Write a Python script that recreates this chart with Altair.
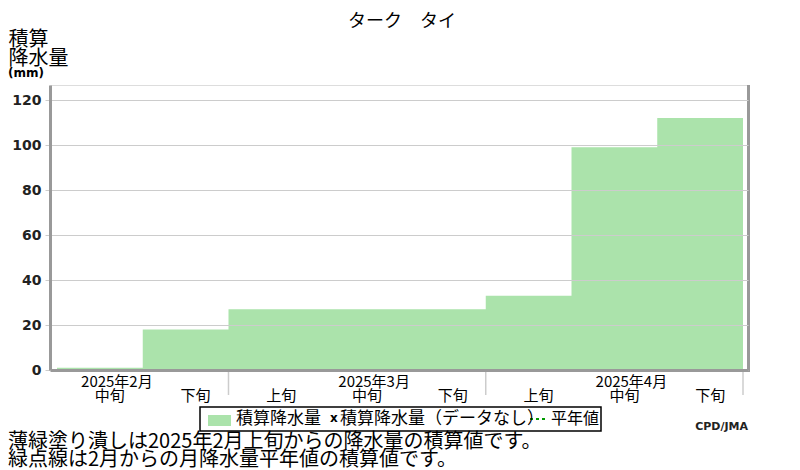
import altair as alt
import pandas as pd

JP = "Noto Sans CJK JP"

title_text = "ターク　タイ"
dekad_labels = ["中旬", "下旬", "上旬", "中旬", "下旬", "上旬", "中旬", "下旬"]
precip = [1, 18, 27, 27, 27, 33, 99, 112]
month_labels = ["2025年2月", "2025年3月", "2025年4月"]
month_mid_index = [0, 3, 6]
month_boundaries = [2, 5, 8]
y_ticks = [0, 20, 40, 60, 80, 100, 120]
y_title = ["積算", "降水量"]
y_unit = "(mm)"
legend_item1 = "積算降水量"
legend_item2 = "積算降水量（データなし）"
legend_item3 = "平年値"
note_lines = ["薄緑塗り潰しは2025年2月上旬からの降水量の積算値です。",
              "緑点線は2月からの月降水量平年値の積算値です。"]
credit = "CPD/JMA"

W, H = 698, 285
xscale = alt.Scale(domain=[-0.0816, 8.0583], nice=False, zero=False)
yscale = alt.Scale(domain=[0, 126.67], nice=False, zero=False)

# step-after area: each dekad's value holds until the next dekad boundary
area_df = pd.DataFrame({
    "pos": list(range(len(precip) + 1)),
    "value": precip + [precip[-1]],
})
dek_df = pd.DataFrame({"pos": [i + 0.5 for i in range(len(dekad_labels))], "label": dekad_labels})
mon_df = pd.DataFrame({"pos": [i + 0.5 for i in month_mid_index], "label": month_labels})
sep_df = pd.DataFrame({"pos": month_boundaries})

area = alt.Chart(area_df).mark_area(color="#abe3ab", interpolate="step-after", opacity=1).encode(
    x=alt.X("pos:Q", scale=xscale,
            axis=alt.Axis(labels=False, ticks=False, grid=False, domainColor="#999999",
                          domainWidth=3, title=None, zindex=1)),
    y=alt.Y("value:Q", scale=yscale,
            axis=alt.Axis(values=y_ticks, grid=True, gridColor="#cccccc", gridWidth=1,
                          tickColor="#cccccc", tickSize=5, tickWidth=1,
                          labelFont="DejaVu Sans", labelFontSize=14, labelFontWeight="bold",
                          labelColor="#222222", labelPadding=4,
                          domainColor="#999999", domainWidth=3, zindex=1,
                          title=y_title, titleAngle=0, titleX=-42, titleY=-56,
                          titleAlign="left", titleBaseline="top", titleFont=JP,
                          titleFontSize=20, titleFontWeight="normal", titleColor="#000000",
                          titleLineHeight=19)),
    y2=alt.datum(0),
)

right_border = alt.Chart(pd.DataFrame({"a": [0]})).mark_rule(color="#999999", strokeWidth=3).encode(
    x=alt.value(W + 0.5), y=alt.value(0), y2=alt.value(H + 2)
)

seps = alt.Chart(sep_df).mark_rule(color="#cccccc", strokeWidth=1.5).encode(
    x=alt.X("pos:Q", scale=xscale), y=alt.value(H + 2), y2=alt.value(H + 25)
)

dek_text = alt.Chart(dek_df).mark_text(font=JP, fontSize=15, dx=10, baseline="middle",
                                       color="#000000").encode(
    x=alt.X("pos:Q", scale=xscale), y=alt.value(H + 26), text="label:N"
)
mon_text = alt.Chart(mon_df).mark_text(font=JP, fontSize=15, dx=17, baseline="middle",
                                       color="#000000").encode(
    x=alt.X("pos:Q", scale=xscale), y=alt.value(H + 12), text="label:N"
)

def label(text, x, y, size, align="left", weight="normal", font=JP, color="#000000"):
    return alt.Chart(pd.DataFrame({"t": [text]})).mark_text(
        font=font, fontSize=size, align=align, baseline="middle", fontWeight=weight, color=color
    ).encode(x=alt.value(x), y=alt.value(y), text="t:N")

title = label(title_text, W / 2 + 3, -63, 18, align="center")
unit = label(y_unit, -42, -12, 12, weight="bold", font="DejaVu Sans")

legend_box = alt.Chart(pd.DataFrame({"a": [0]})).mark_rect(
    fill="white", stroke="black", strokeWidth=1.5
).encode(x=alt.value(150), x2=alt.value(551), y=alt.value(322), y2=alt.value(346))
legend_swatch = alt.Chart(pd.DataFrame({"a": [0]})).mark_rect(color="#abe3ab").encode(
    x=alt.value(158), x2=alt.value(181), y=alt.value(330), y2=alt.value(341)
)
legend_dash = alt.Chart(pd.DataFrame({"a": [0]})).mark_rule(
    color="#009900", strokeWidth=2, strokeDash=[3, 3]
).encode(x=alt.value(480), x2=alt.value(497), y=alt.value(334))
leg1 = label(legend_item1, 186, 334, 17)
legx = label("x", 280, 333, 12, weight="bold", font="DejaVu Sans")
leg2 = label(legend_item2, 290, 334, 17)
leg3 = label(legend_item3, 501, 334, 16)

note1 = label(note_lines[0], -42, 357, 20)
note2 = label(note_lines[1], -42, 375, 20)
cred = label(credit, W, 342, 11, align="right", weight="bold", font="DejaVu Sans", color="#222222")

chart = alt.layer(
    area, right_border, seps, dek_text, mon_text, title, unit,
    legend_box, legend_swatch, legend_dash, leg1, legx, leg2, leg3,
    note1, note2, cred
).properties(
    width=W, height=H,
    autosize=alt.AutoSizeParams(type="none"),
    padding={"left": 42, "top": 77, "right": 44, "bottom": 99},
).configure_view(stroke=None).configure(background="white")

chart.save("out.html", embed_options={"renderer": "svg", "actions": False})
